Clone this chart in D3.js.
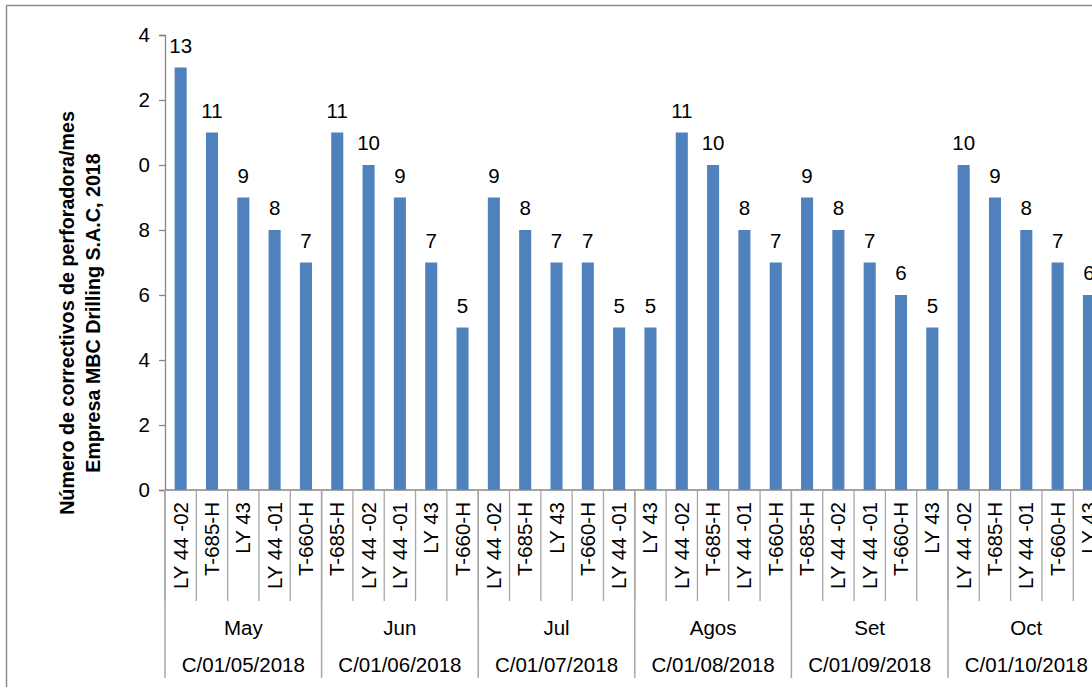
<!DOCTYPE html>
<html>
<head>
<meta charset="utf-8">
<script src="https://cdn.jsdelivr.net/npm/d3@7"></script>
<style>
  html, body { margin: 0; padding: 0; background: #fff; overflow: hidden; }
  text { font-family: "Liberation Sans", Arial, sans-serif; fill: #000; }
</style>
</head>
<body>
<div id="chart"></div>
<script>
// months (with their date row) and the five drills inside each
const months = ["May", "Jun", "Jul", "Agos", "Set", "Oct"];
const monthDates = ["C/01/05/2018", "C/01/06/2018", "C/01/07/2018", "C/01/08/2018", "C/01/09/2018", "C/01/10/2018"];
const drills = [
    ["LY 44 -02", "T-685-H", "LY 43", "LY 44 -01", "T-660-H"],
    ["T-685-H", "LY 44 -02", "LY 44 -01", "LY 43", "T-660-H"],
    ["LY 44 -02", "T-685-H", "LY 43", "T-660-H", "LY 44 -01"],
    ["LY 43", "LY 44 -02", "T-685-H", "LY 44 -01", "T-660-H"],
    ["T-685-H", "LY 44 -02", "LY 44 -01", "T-660-H", "LY 43"],
    ["LY 44 -02", "T-685-H", "LY 44 -01", "T-660-H", "LY 43"]
];
const correctivos = [
    [13, 11, 9, 8, 7],
    [11, 10, 9, 7, 5],
    [9, 8, 7, 7, 5],
    [5, 11, 10, 8, 7],
    [9, 8, 7, 6, 5],
    [10, 9, 8, 7, 6]
];
// y tick labels as they appear in the picture (leading digit cut off)
const yTickValues = [0, 2, 4, 6, 8, 10, 12, 14];
const yTickLabels = ["0", "2", "4", "6", "8", "0", "2", "4"];
const titleLines = ["Número de correctivos de perforadora/mes", "Empresa MBC Drilling S.A.C, 2018"];

const width = 1092, height = 687;
const left = 165, catStep = 31.32, baseY = 490, topY = 35;
const fs = "20.5px";

/* flatten month groups into one list of bars */
let rows = [];
months.forEach((m, mi) => {
    drills[mi].forEach((d, di) => {
        rows.push({ month: m, mi: mi, drill: d, value: correctivos[mi][di], key: mi + "|" + di });
    });
});

let svg = d3.select("#chart").append("svg")
    .attr("width", width)
    .attr("height", height);

/* outer chart border (cropped at right and bottom) */
svg.append("path")
    .attr("d", "M6.5," + height + " V5.5 H" + width)
    .attr("fill", "none")
    .attr("stroke", "#8c8c8c")
    .attr("stroke-width", 1.5);

let xScale = d3.scaleBand()
    .domain(rows.map(r => r.key))
    .range([left, left + catStep * rows.length])
    .paddingInner(0).paddingOuter(0);

let monthScale = d3.scaleBand()
    .domain(months)
    .range([left, left + catStep * rows.length]);

let yScale = d3.scaleLinear()
    .domain([0, 14])
    .range([baseY, topY]);

/* y axis */
let yAxis = d3.axisLeft(yScale)
    .tickValues(yTickValues)
    .tickFormat((d, i) => yTickLabels[i])
    .tickSizeInner(6).tickSizeOuter(6).tickPadding(9);

let yG = svg.append("g")
    .attr("transform", "translate(" + left + ",0)")
    .call(yAxis);
yG.selectAll("path, line").attr("stroke", "#868686").attr("stroke-width", 1.3);
yG.selectAll("text").style("font-size", fs).attr("font-family", "Liberation Sans, Arial, sans-serif");

/* bars */
let barW = xScale.bandwidth() * 0.385;
svg.selectAll("rect.bar")
    .data(rows)
    .enter()
    .append("rect")
    .attr("class", "bar")
    .attr("x", d => xScale(d.key) + (xScale.bandwidth() - barW) / 2)
    .attr("y", d => yScale(d.value))
    .attr("width", barW)
    .attr("height", d => baseY - yScale(d.value))
    .attr("fill", "#4f81bd");

/* value labels */
svg.selectAll("text.val")
    .data(rows)
    .enter()
    .append("text")
    .attr("class", "val")
    .attr("x", d => xScale(d.key) + xScale.bandwidth() / 2)
    .attr("y", d => yScale(d.value) - 15)
    .attr("text-anchor", "middle")
    .style("font-size", fs)
    .text(d => d.value);

/* x axis baseline */
svg.append("line")
    .attr("x1", left).attr("x2", left + catStep * rows.length)
    .attr("y1", baseY).attr("y2", baseY)
    .attr("stroke", "#868686").attr("stroke-width", 1.5);

/* separators between drills */
svg.selectAll("line.sep")
    .data(rows)
    .enter()
    .append("line")
    .attr("class", "sep")
    .attr("x1", d => xScale(d.key)).attr("x2", d => xScale(d.key))
    .attr("y1", baseY).attr("y2", 601)
    .attr("stroke", "#a6a6a6").attr("stroke-width", 1.3);

/* separators between months, running through both label rows */
svg.selectAll("line.msep")
    .data(months)
    .enter()
    .append("line")
    .attr("class", "msep")
    .attr("x1", d => monthScale(d)).attr("x2", d => monthScale(d))
    .attr("y1", baseY).attr("y2", 678)
    .attr("stroke", "#a6a6a6").attr("stroke-width", 1.5);

/* drill names, rotated */
svg.selectAll("text.drill")
    .data(rows)
    .enter()
    .append("text")
    .attr("class", "drill")
    .attr("transform", d => "translate(" + (xScale(d.key) + xScale.bandwidth() / 2 + 7) + "," + 502 + ") rotate(-90)")
    .attr("text-anchor", "end")
    .style("font-size", fs)
    .text(d => d.drill);

/* month row */
svg.selectAll("text.month")
    .data(months)
    .enter()
    .append("text")
    .attr("class", "month")
    .attr("x", d => monthScale(d) + monthScale.bandwidth() / 2)
    .attr("y", 635)
    .attr("text-anchor", "middle")
    .style("font-size", fs)
    .text(d => d);

/* date row */
svg.selectAll("text.mdate")
    .data(monthDates)
    .enter()
    .append("text")
    .attr("class", "mdate")
    .attr("x", (d, i) => monthScale(months[i]) + monthScale.bandwidth() / 2)
    .attr("y", 672)
    .attr("text-anchor", "middle")
    .style("font-size", fs)
    .text(d => d);

/* y axis title, two bold lines */
svg.selectAll("text.ytitle")
    .data(titleLines)
    .enter()
    .append("text")
    .attr("class", "ytitle")
    .attr("transform", (d, i) => "translate(" + (74 + i * 26) + ",313) rotate(-90)")
    .attr("text-anchor", "middle")
    .style("font-size", "19.7px")
    .style("font-weight", "bold")
    .text(d => d);
</script>
</body>
</html>
